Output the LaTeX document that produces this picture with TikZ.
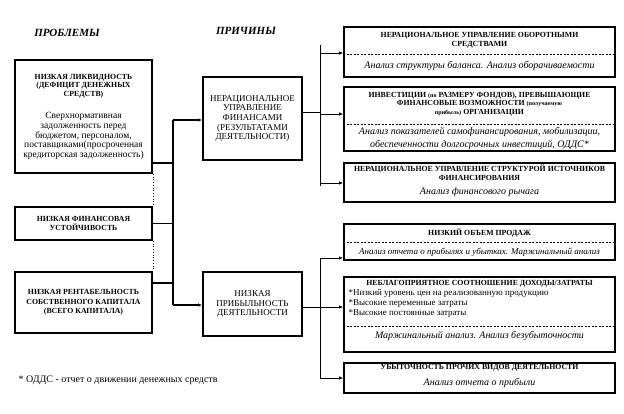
\documentclass[tikz,border=0pt]{standalone}
\usepackage{fontspec}
\setmainfont{Liberation Serif}
\usetikzlibrary{arrows.meta, positioning, calc}
\tikzset{
  frame/.style={rectangle, draw, line width=1.8pt, inner sep=2pt, align=center},
  hdr/.style={align=center, font=\fontsize{7.8}{8.6}\selectfont\bfseries},
  txt/.style={align=center, font=\fontsize{9.5}{9.6}\selectfont},
  anl/.style={align=center, font=\fontsize{10}{12.5}\selectfont\itshape},
  ttl/.style={font=\fontsize{11}{12}\selectfont\bfseries\itshape},
  lnk/.style={line width=1.5pt},
  thin/.style={line width=0.75pt},
  arr/.style={-{Latex[length=4pt,width=3.5pt]}},
  dsep/.style={line width=0.5pt, dash pattern=on 2pt off 1.5pt},
}
\newcommand{\smallpart}[1]{{\fontsize{6}{8.6}\selectfont #1}}

\begin{document}
\begin{tikzpicture}[x=1pt, y=-1pt,
  cause/.style={frame, minimum width=99pt, font=\fontsize{9}{9.6}\selectfont},
  reason/.style={frame, minimum width=271pt},
]
  \useasboundingbox (0,0) rectangle (624,414);

  \node[ttl] (tprob) at (67,33) {ПРОБЛЕМЫ};
  \node[ttl] (tcause) at (246,31) {ПРИЧИНЫ};

  % problems
  \node[frame, minimum width=137pt, minimum height=113pt] (liq) at (83.5,116.5) {};
  \node[hdr] (liqh) at (83.5,86) {НИЗКАЯ ЛИКВИДНОСТЬ\\(ДЕФИЦИТ ДЕНЕЖНЫХ\\СРЕДСТВ)};
  \node[txt] (liqt) at (83.5,136) {Сверхнормативная\\задолженность перед\\бюджетом, персоналом,\\поставщиками(просроченная\\кредиторская задолженность)};
  \node[frame, hdr, minimum width=137pt, minimum height=33pt] (stab) at (83.5,223.5) {НИЗКАЯ ФИНАНСОВАЯ\\УСТОЙЧИВОСТЬ};
  \node[frame, hdr, minimum width=137pt, minimum height=61pt, font=\fontsize{7.8}{9.6}\selectfont\bfseries] (rent) at (83.5,302.5) {НИЗКАЯ РЕНТАБЕЛЬНОСТЬ\\СОБСТВЕННОГО КАПИТАЛА\\(ВСЕГО КАПИТАЛА)};
  \draw[dotted, thin] (liq.south east) -- (stab.north east);
  \draw[dotted, thin] (stab.south east) -- (rent.north east);

  % causes
  \node[cause, minimum height=83pt] (fin) at (252.5,118.5) {НЕРАЦИОНАЛЬНОЕ\\УПРАВЛЕНИЕ\\ФИНАНСАМИ\\(РЕЗУЛЬТАТАМИ\\ДЕЯТЕЛЬНОСТИ)};
  \node[cause, minimum height=64pt] (prof) at (252.5,304) {НИЗКАЯ\\ПРИБЫЛЬНОСТЬ\\ДЕЯТЕЛЬНОСТИ};

  % left bus
  \coordinate (lbtop) at (173,120);
  \coordinate (lbbot) at (173,305);
  \draw[lnk] (lbtop) -- (lbbot);
  \draw[lnk] (liq.east |- 0,163) -- (lbtop |- 0,163);
  \draw[lnk] (stab.east) -- (lbtop |- stab.east);
  \draw[lnk] (rent.east |- 0,283) -- (lbtop |- 0,283);
  \draw[lnk, arr] (lbtop) -- (fin.west |- lbtop);
  \draw[lnk, arr] (lbbot) -- (prof.west |- lbbot);

  % reasons, upper group
  \node[reason, minimum height=50pt] (oborot) at (479.5,52) {};
  \node[hdr] (oborh) at (479.5,40) {НЕРАЦИОНАЛЬНОЕ УПРАВЛЕНИЕ ОБОРОТНЫМИ\\СРЕДСТВАМИ};
  \draw[dsep] (oborot.west |- 0,54) -- (oborot.east |- 0,54);
  \node[anl] (obora) at (479.5,66) {Анализ структуры баланса. Анализ оборачиваемости};

  \node[reason, minimum height=64pt] (invest) at (479.5,119) {};
  \node[hdr] (invh) at (479.5,104) {ИНВЕСТИЦИИ \smallpart{(по} РАЗМЕРУ ФОНДОВ), ПРЕВЫШАЮЩИЕ\\ФИНАНСОВЫЕ ВОЗМОЖНОСТИ \smallpart{(получаемую}\\\smallpart{прибыль)} ОРГАНИЗАЦИИ};
  \draw[dsep] (invest.west |- 0,124) -- (invest.east |- 0,124);
  \node[anl] (inva) at (479.5,138.5) {Анализ показателей самофинансирования, мобилизации,\\обеспеченности долгосрочных инвестиций, ОДДС*};

  \node[reason, minimum height=39pt] (struct) at (479.5,182.5) {};
  \node[hdr] (strh) at (479.5,173) {НЕРАЦИОНАЛЬНОЕ УПРАВЛЕНИЕ СТРУКТУРОЙ ИСТОЧНИКОВ\\ФИНАНСИРОВАНИЯ};
  \node[anl] (stra) at (479.5,192) {Анализ финансового рычага};

  % reasons, lower group
  \node[reason, minimum height=36pt] (sales) at (479.5,242) {};
  \node[hdr] (salh) at (479.5,233) {НИЗКИЙ ОБЪЕМ ПРОДАЖ};
  \draw[dsep] (sales.west |- 0,242) -- (sales.east |- 0,242);
  \node[anl, font=\fontsize{9}{11}\selectfont\itshape] (sala) at (479.5,252) {Анализ отчета о прибылях и убытках. Маржинальный анализ};

  \node[reason, minimum height=75pt] (ratio) at (479.5,314.5) {};
  \node[hdr] (rath) at (479.5,283.5) {НЕБЛАГОПРИЯТНОЕ СООТНОШЕНИЕ ДОХОДЫ/ЗАТРАТЫ};
  \node[txt, align=left, anchor=west, font=\fontsize{9}{10}\selectfont] (ratt) at (345,303) {*Низкий уровень цен на реализованную продукцию\\*Высокие переменные затраты\\*Высокие постоянные затраты};
  \draw[dsep] (ratio.west |- 0,326) -- (ratio.east |- 0,326);
  \node[anl] (rata) at (479.5,336) {Маржинальный анализ. Анализ безубыточности};

  \node[reason, minimum height=30pt] (other) at (479.5,378) {};
  \node[hdr] (othh) at (479.5,368) {УБЫТОЧНОСТЬ ПРОЧИХ ВИДОВ ДЕЯТЕЛЬНОСТИ};
  \node[anl] (otha) at (479.5,383) {Анализ отчета о прибыли};

  % right buses
  \coordinate (rutop) at (320,45);
  \coordinate (rubot) at (320,186);
  \draw[thin] (rutop) -- (rubot);
  \draw[thin] (fin.east |- 0,112) -- (rutop |- 0,112);
  \draw[thin, arr] (rutop |- 0,53) -- (oborot.west |- 0,53);
  \draw[thin, arr] (rutop |- 0,114) -- (invest.west |- 0,114);
  \draw[thin, arr] (rutop |- 0,183) -- (struct.west |- 0,183);

  \coordinate (rltop) at (320,258);
  \coordinate (rlbot) at (320,378);
  \draw[thin] (rltop) -- (rlbot);
  \draw[thin] (prof.east |- 0,307) -- (rltop |- 0,307);
  \draw[thin, arr] (rltop) -- (sales.west |- rltop);
  \draw[thin, arr] (rltop |- 0,307) -- (ratio.west |- 0,307);
  \draw[thin, arr] (rlbot) -- (other.west |- rlbot);

  \node[anchor=west, font=\fontsize{10}{12}\selectfont] (foot) at (15,380) {* ОДДС - отчет о движении денежных средств};
\end{tikzpicture}
\end{document}
